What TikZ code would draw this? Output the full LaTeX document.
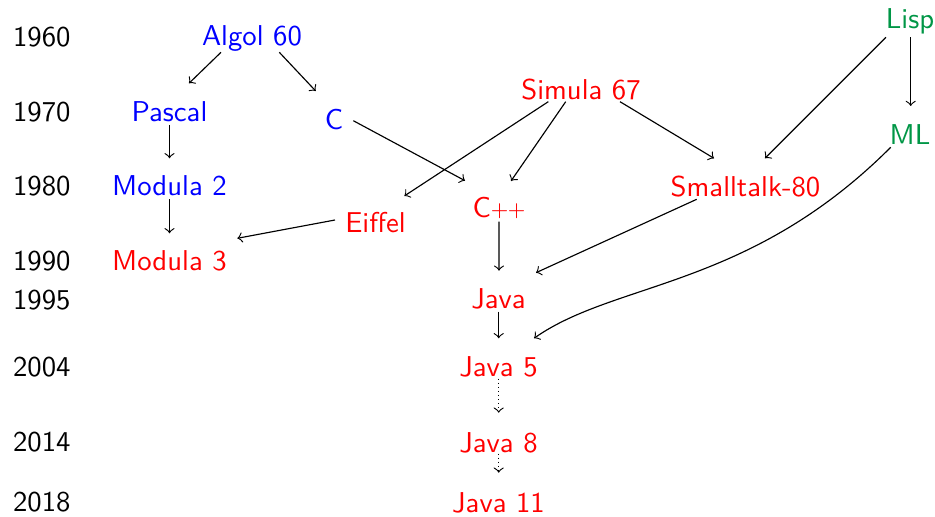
\documentclass[tikz,border=0pt]{standalone}
\usetikzlibrary{arrows}
\definecolor{langblue}{RGB}{0,0,255}
\definecolor{langred}{RGB}{255,0,0}
\definecolor{langgreen}{RGB}{0,150,70}
% small raised plus signs for C++
\newcommand{\pluses}{\raisebox{0.6pt}{\fontsize{7.4}{8}\selectfont+\kern-0.2pt+}}
\begin{document}
\begin{tikzpicture}[x=0.3484pt,y=-0.3484pt,
  font=\sffamily,
  lang/.style={anchor=base,inner sep=0pt},
  year/.style={anchor=base west,inner sep=0pt},
  imp/.style={lang,text=langblue},
  oo/.style={lang,text=langred},
  fun/.style={lang,text=langgreen},
  link/.style={->,>=to,line width=0.4pt},
  later/.style={link,densely dotted}]
\useasboundingbox (0,0) rectangle (935,517);

% time axis
\node[year] (y1960) at (12.5,46.5) {1960};
\node[year] (y1970) at (12.5,121.7) {1970};
\node[year] (y1980) at (12.5,196) {1980};
\node[year] (y1990) at (12.5,270.7) {1990};
\node[year] (y1995) at (12.5,309.3) {1995};
\node[year] (y2004) at (12.5,376.7) {2004};
\node[year] (y2014) at (12.5,451) {2014};
\node[year] (y2018) at (12.5,511) {2018};

% languages
\node[imp] (algol) at (252,46) {Algol 60};
\node[imp] (pascal) at (169.5,121.7) {Pascal};
\node[imp] (c) at (334,130) {C};
\node[oo] (simula) at (581,100) {Simula 67};
\node[fun] (lisp) at (910,29) {Lisp};
\node[fun] (ml) at (910,145) {ML};
\node[imp] (modtwo) at (169.5,196) {Modula 2};
\node[oo] (cpp) at (499,218) {C\pluses};
\node[oo] (small) at (745.5,197) {Smalltalk-80};
\node[oo] (eiffel) at (375.5,233) {Eiffel};
\node[oo] (modthree) at (169.5,271) {Modula 3};
\node[oo] (java) at (498.5,309) {Java};
\node[oo] (javafive) at (498.5,377) {Java 5};
\node[oo] (javaeight) at (498.5,452) {Java 8};
\node[oo] (javaeleven) at (498.5,512) {Java 11};

% influences
\draw[link] ([shift={(-31,6.3)}]algol.base) -- ([shift={(19.5,-38.4)}]pascal.base);
\draw[link] ([shift={(27.3,6.3)}]algol.base) -- ([shift={(-18.3,-39)}]c.base);
\draw[link] ([shift={(0,3.3)}]pascal.base) -- ([shift={(0,-37.7)}]modtwo.base);
\draw[link] ([shift={(0,3.3)}]modtwo.base) -- ([shift={(0,-37.7)}]modthree.base);
\draw[link] ([shift={(-40.5,-13)}]eiffel.base) -- ([shift={(67.8,-32.7)}]modthree.base);
\draw[link] ([shift={(19.3,-9.3)}]c.base) -- ([shift={(-34,-37.3)}]cpp.base);
\draw[link] ([shift={(-32.7,1.7)}]simula.base) -- ([shift={(28.8,-37)}]eiffel.base);
\draw[link] ([shift={(-15.3,1.7)}]simula.base) -- ([shift={(12,-37)}]cpp.base);
\draw[link] ([shift={(39,1.7)}]simula.base) -- ([shift={(-31.5,-38.7)}]small.base);
\draw[link] ([shift={(0,3.7)}]cpp.base) -- ([shift={(0.5,-38.3)}]java.base);
\draw[link] ([shift={(-48.8,2.3)}]small.base) -- ([shift={(37.5,-36.3)}]java.base);
\draw[link] ([shift={(-24,8.3)}]lisp.base) -- ([shift={(19.5,-38.7)}]small.base);
\draw[link] ([shift={(0.7,8.3)}]lisp.base) -- ([shift={(0.7,-39)}]ml.base);
\draw[link] ([shift={(-19.3,2.3)}]ml.base)
  .. controls +(-141.4,141.4) and +(82,-57.4) ..
  ([shift={(35.5,-38.7)}]javafive.base);
\draw[link] ([shift={(0.2,2.7)}]java.base) -- ([shift={(0.2,-38.7)}]javafive.base);
\draw[later] ([shift={(0.2,1.7)}]javafive.base) -- ([shift={(0.2,-39.3)}]javaeight.base);
\draw[later] ([shift={(0.2,1.7)}]javaeight.base) -- ([shift={(0.2,-39.3)}]javaeleven.base);
\end{tikzpicture}
\end{document}
